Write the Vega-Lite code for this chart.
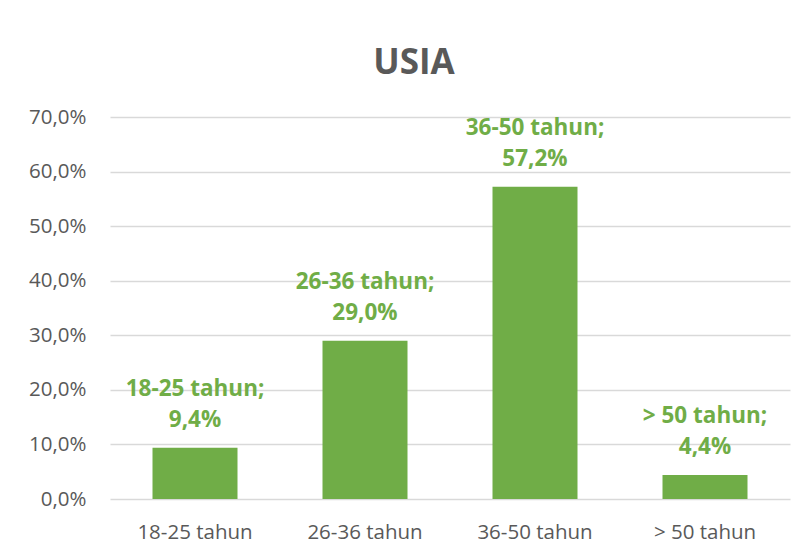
{
  "$schema": "https://vega.github.io/schema/vega-lite/v6.json",
  "autosize": "none",
  "width": 680,
  "height": 382,
  "padding": {"left": 110, "top": 117, "right": 17, "bottom": 54},
  "background": "white",
  "title": {
    "text": "USIA",
    "font": "Open Sans",
    "fontSize": 35,
    "fontWeight": "bold",
    "color": "#595959",
    "anchor": "middle",
    "dx": -36,
    "baseline": "alphabetic",
    "offset": -2
  },
  "data": {
    "values": [
      {"usia": "18-25 tahun", "persen": 0.094},
      {"usia": "26-36 tahun", "persen": 0.29},
      {"usia": "36-50 tahun", "persen": 0.572},
      {"usia": "> 50 tahun", "persen": 0.044}
    ]
  },
  "transform": [
    {"calculate": "datum.usia + ';\\n' + format(datum.persen, '.1%')", "as": "label"}
  ],
  "encoding": {
    "x": {
      "field": "usia",
      "type": "nominal",
      "sort": null,
      "scale": {"paddingInner": 0.5, "paddingOuter": 0.25},
      "axis": {
        "title": null,
        "labelAngle": 0,
        "domain": false,
        "ticks": false,
        "labelPadding": 23,
        "labelFont": "Open Sans",
        "labelFontSize": 20.5,
        "labelColor": "#595959"
      }
    },
    "y": {
      "field": "persen",
      "type": "quantitative",
      "scale": {"domain": [0, 0.7]},
      "axis": {
        "title": null,
        "format": ".1%",
        "values": [0, 0.1, 0.2, 0.3, 0.4, 0.5, 0.6, 0.7],
        "domain": false,
        "ticks": false,
        "labelPadding": 24,
        "labelFont": "Open Sans",
        "labelFontSize": 20.5,
        "labelColor": "#595959",
        "gridColor": "#D9D9D9",
        "gridWidth": 1.3
      }
    }
  },
  "layer": [
    {"mark": {"type": "bar", "color": "#70AD47"}},
    {
      "mark": {
        "type": "text",
        "font": "Open Sans",
        "fontSize": 22.5,
        "fontWeight": "bold",
        "color": "#70AD47",
        "lineBreak": "\n",
        "lineHeight": 31,
        "baseline": "alphabetic",
        "dy": -52
      },
      "encoding": {"text": {"field": "label"}}
    }
  ],
  "config": {
    "locale": {
      "number": {"decimal": ",", "thousands": ".", "grouping": [3], "currency": ["", ""]}
    },
    "view": {"stroke": null}
  }
}
